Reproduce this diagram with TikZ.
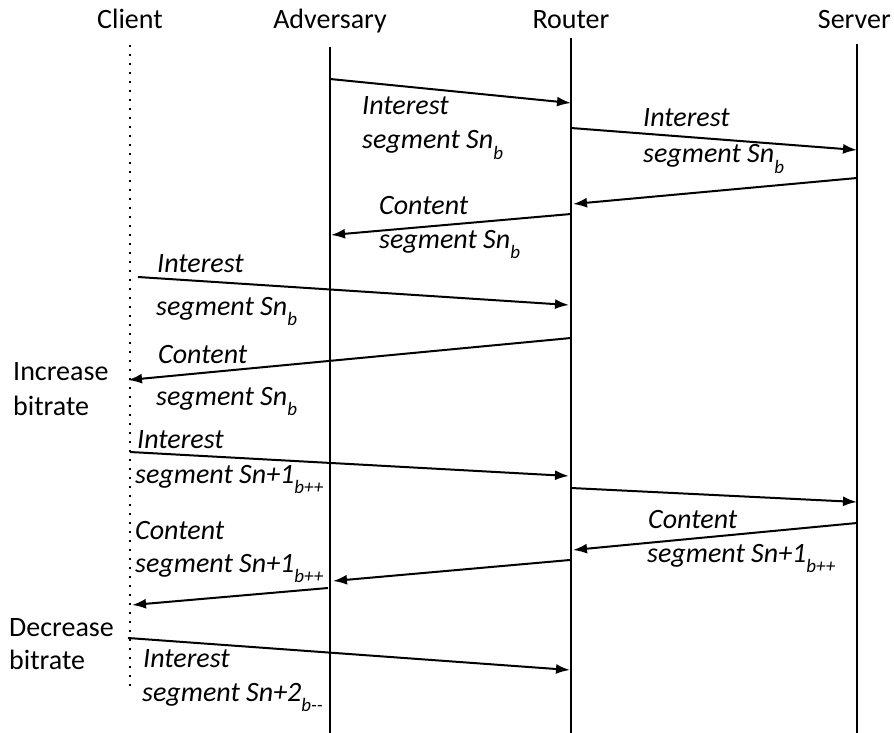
\documentclass[tikz,border=0pt]{standalone}
\usepackage{fontspec}
\setmainfont{Carlito}
\usepackage{tikz}
\usetikzlibrary{arrows.meta}
\newcommand{\Sb}[1]{\raisebox{-10pt}{\fontsize{19}{19}\selectfont #1}}

\begin{document}
\begin{tikzpicture}[
x=1pt,y=-1pt,
LifeLine/.style={draw=black,line width=2pt},
ClientLine/.style={draw=black,line width=2pt,dash pattern=on 2pt off 7pt},
Msg/.style={draw=black,line width=2pt,-{Latex[length=14pt,width=10pt]}},
MsgText/.style={anchor=base west,inner sep=0pt,font=\fontsize{28}{34}\selectfont\itshape},
Actor/.style={anchor=base,inner sep=0pt,font=\fontsize{28}{34}\selectfont},
SideNote/.style={anchor=base west,inner sep=0pt,font=\fontsize{28}{34}\selectfont}
]

\useasboundingbox (0,0) rectangle (894,733);

% x of the four lifelines
\pgfmathparse{130}	\let\Xcl\pgfmathresult
\pgfmathparse{330}	\let\Xad\pgfmathresult
\pgfmathparse{571}	\let\Xro\pgfmathresult
\pgfmathparse{857}	\let\Xse\pgfmathresult

\node[Actor] (client) at (\Xcl,29) {Client};
\node[Actor] (adversary) at (\Xad,29) {Adversary};
\node[Actor] (router) at (\Xro,29) {Router};
\node[Actor,anchor=base east] (server) at (891,29) {Server};

\coordinate (clTop) at (\Xcl,45);	\coordinate (clEnd) at (\Xcl,690);
\coordinate (adTop) at (\Xad,47);	\coordinate (adEnd) at (\Xad,733);
\coordinate (roTop) at (\Xro,38);	\coordinate (roEnd) at (\Xro,733);
\coordinate (seTop) at (\Xse,44);	\coordinate (seEnd) at (\Xse,733);

\draw[ClientLine] (clTop)--(clEnd);
\draw[LifeLine] (adTop)--(adEnd);
\draw[LifeLine] (roTop)--(roEnd);
\draw[LifeLine] (seTop)--(seEnd);

% message ends
\coordinate (m1s) at (\Xad,79);		\coordinate (m1e) at (\Xro,103);
\coordinate (m2s) at (\Xro,128);	\coordinate (m2e) at (\Xse,150);
\coordinate (m3s) at (\Xse,178);	\coordinate (m3e) at (573,204);
\coordinate (m4s) at (\Xro,214);	\coordinate (m4e) at (331,235);
\coordinate (m5s) at (138,277);		\coordinate (m5e) at (569,305);
\coordinate (m6s) at (\Xro,338);	\coordinate (m6e) at (128,380);
\coordinate (m7s) at (\Xcl,452);	\coordinate (m7e) at (569,476);
\coordinate (m8s) at (\Xro,488);	\coordinate (m8e) at (\Xse,502);
\coordinate (m9s) at (\Xse,523);	\coordinate (m9e) at (573,550);
\coordinate (m10s) at (570,560);	\coordinate (m10e) at (333,581);
\coordinate (m11s) at (328,588);	\coordinate (m11e) at (132,605);
\coordinate (m12s) at (128,638);	\coordinate (m12e) at (570,670);

\foreach \i in {1,...,12}
	\draw[Msg] (m\i s)--(m\i e);

\node[MsgText] (t1a) at (362,115) {Interest};
\node[MsgText] (t1b) at (362,149) {segment Sn\Sb{b}};

\node[MsgText] (t2a) at (643,127) {Interest};
\node[MsgText] (t2b) at (643,163) {segment Sn\Sb{b}};

\node[MsgText] (t3a) at (379,214) {Content};
\node[MsgText] (t3b) at (379,248) {segment Sn\Sb{b}};

\node[MsgText] (t4a) at (157,272) {Interest};
\node[MsgText] (t4b) at (156,315) {segment Sn\Sb{b}};

\node[MsgText] (t5a) at (158,363) {Content};
\node[MsgText] (t5b) at (156,405) {segment Sn\Sb{b}};

\node[MsgText] (t6a) at (137,448) {Interest};
\node[MsgText] (t6b) at (135,483) {segment Sn+1\Sb{b++}};

\node[MsgText] (t8a) at (648,528) {Content};
\node[MsgText] (t8b) at (647,562) {segment Sn+1\Sb{b++}};

\node[MsgText] (t9a) at (135,539) {Content};
\node[MsgText] (t9b) at (135,572) {segment Sn+1\Sb{b++}};

\node[MsgText] (t12a) at (143,667) {Interest};
\node[MsgText] (t12b) at (142,701) {segment Sn+2\Sb{b-{}-}};

\node[SideNote] (incA) at (13,380) {Increase};
\node[SideNote] (incB) at (13,415) {bitrate};
\node[SideNote] (decA) at (9,636) {Decrease};
\node[SideNote] (decB) at (9,669) {bitrate};

\end{tikzpicture}
\end{document}
